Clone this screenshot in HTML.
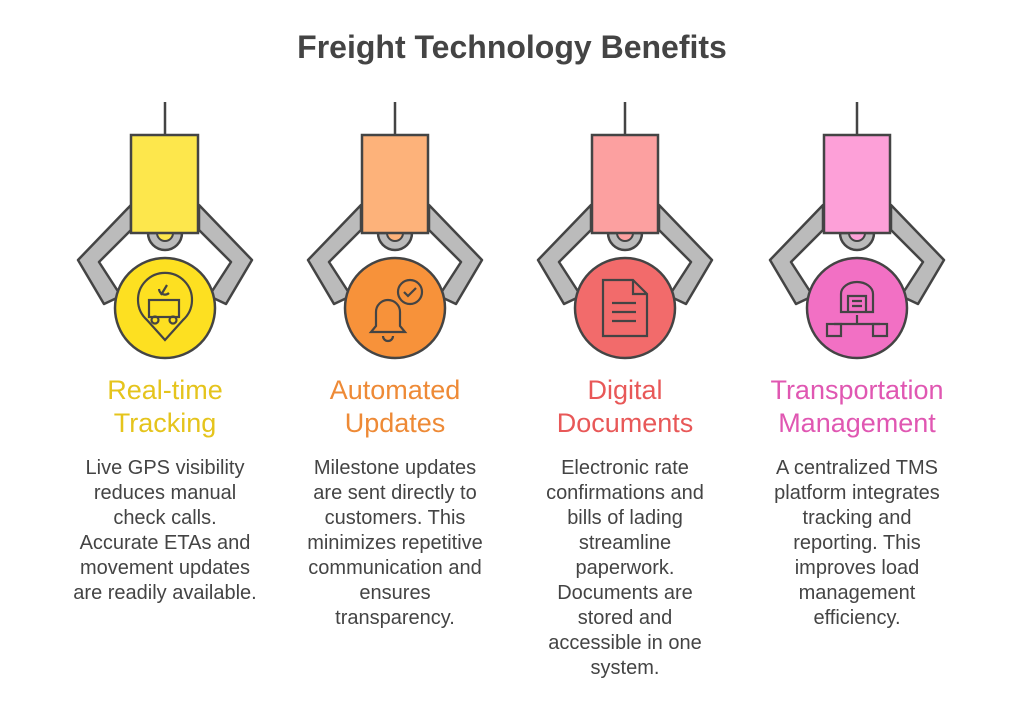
<!DOCTYPE html>
<html><head><meta charset="utf-8"><style>
body{margin:0;width:1024px;height:720px;background:#fff;position:relative;font-family:"Liberation Sans",sans-serif;overflow:hidden}
.t{position:absolute;top:29px;left:0;width:1024px;text-align:center;font-size:32px;font-weight:bold;color:#444}
.h{position:absolute;top:374px;width:260px;text-align:center;font-size:27px;line-height:33px}
.b{position:absolute;top:456px;width:260px;text-align:center;font-size:20px;line-height:25px;color:#444}
</style></head><body>
<div class="t">Freight Technology Benefits</div>
<svg width="1024" height="720" style="position:absolute;left:0;top:0">
<defs>
<g id="claw" stroke="#444" stroke-width="2.5" stroke-linejoin="round">
<line x1="0" y1="102" x2="0" y2="135"/>
<polygon fill="#bbb" points="-34,205 -87,260 -61,304 -44,296 -66,262 -34,230"/>
<polygon fill="#bbb" points="34,205 87,260 61,304 44,296 66,262 34,230"/>
<path d="M-17,233 A17,17 0 0 0 17,233 Z" fill="#bbb"/>
</g>
</defs>
<g transform="translate(165,0)"><use href="#claw"/>
<path d="M-8,233 A8,8 0 0 0 8,233 Z" fill="#FDE74C" stroke="#444" stroke-width="2"/>
<rect x="-34" y="135" width="67" height="98" fill="#FDE74C" stroke="#444" stroke-width="2.5"/>
<circle cx="0" cy="308" r="50" fill="#FDE021" stroke="#444" stroke-width="2.5"/>
<g fill="none" stroke="#444" stroke-width="2.2"><path d="M0,340 L-18,320 A27,27 0 1 1 18,320 Z"/><rect x="-16" y="300" width="30" height="17"/><circle cx="-10" cy="320" r="3.5"/><circle cx="8" cy="320" r="3.5"/><path d="M-4,295 l6,-10 M-6,289 a6,6 0 0 0 10,4"/></g></g>
<g transform="translate(395,0)"><use href="#claw"/>
<path d="M-8,233 A8,8 0 0 0 8,233 Z" fill="#FDB27A" stroke="#444" stroke-width="2"/>
<rect x="-33" y="135" width="66" height="98" fill="#FDB27A" stroke="#444" stroke-width="2.5"/>
<circle cx="0" cy="308" r="50" fill="#F7923A" stroke="#444" stroke-width="2.5"/>
<g fill="none" stroke="#444" stroke-width="2.2"><path d="M-24,332 h34 l-5,-6 v-14 a12,12 0 0 0 -24,0 v14 Z M-12,336 a5,5 0 0 0 10,0"/><circle cx="15" cy="292" r="12"/><path d="M9,292 l4,4 l8,-8"/></g></g>
<g transform="translate(625,0)"><use href="#claw"/>
<path d="M-8,233 A8,8 0 0 0 8,233 Z" fill="#FCA0A0" stroke="#444" stroke-width="2"/>
<rect x="-33" y="135" width="66" height="98" fill="#FCA0A0" stroke="#444" stroke-width="2.5"/>
<circle cx="0" cy="308" r="50" fill="#F26B6B" stroke="#444" stroke-width="2.5"/>
<g fill="none" stroke="#444" stroke-width="2.2"><path d="M-22,280 h30 l14,14 v42 h-44 Z M8,280 v14 h14 M-13,303 h24 M-13,312 h24 M-13,321 h24"/></g></g>
<g transform="translate(857,0)"><use href="#claw"/>
<path d="M-8,233 A8,8 0 0 0 8,233 Z" fill="#FDA0D8" stroke="#444" stroke-width="2"/>
<rect x="-33" y="135" width="66" height="98" fill="#FDA0D8" stroke="#444" stroke-width="2.5"/>
<circle cx="0" cy="308" r="50" fill="#F270C4" stroke="#444" stroke-width="2.5"/>
<g fill="none" stroke="#444" stroke-width="2.2"><path d="M-16,312 v-18 a16,12 0 0 1 32,0 v18 Z M-9,312 v-16 h18 v16 M-5,301 h10 M-5,306 h10 M0,315 v8 M-23,324 h46"/><rect x="-30" y="324" width="14" height="12"/><rect x="16" y="324" width="14" height="12"/></g></g>
</svg>
<div class="h" style="left:35px;color:#E5C41C">Real-time<br>Tracking</div>
<div class="h" style="left:265px;color:#EE8A36">Automated<br>Updates</div>
<div class="h" style="left:495px;color:#E85858">Digital<br>Documents</div>
<div class="h" style="left:727px;color:#E057B2">Transportation<br>Management</div>
<div class="b" style="left:35px">Live GPS visibility<br>reduces manual<br>check calls.<br>Accurate ETAs and<br>movement updates<br>are readily available.</div>
<div class="b" style="left:265px">Milestone updates<br>are sent directly to<br>customers. This<br>minimizes repetitive<br>communication and<br>ensures<br>transparency.</div>
<div class="b" style="left:495px">Electronic rate<br>confirmations and<br>bills of lading<br>streamline<br>paperwork.<br>Documents are<br>stored and<br>accessible in one<br>system.</div>
<div class="b" style="left:727px">A centralized TMS<br>platform integrates<br>tracking and<br>reporting. This<br>improves load<br>management<br>efficiency.</div>
</body></html>
